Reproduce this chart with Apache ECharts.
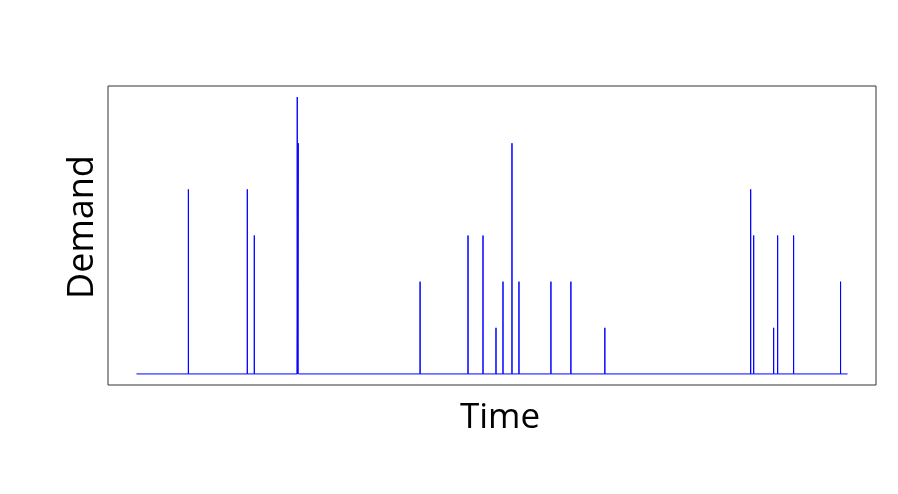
<!DOCTYPE html>
<html>
<head>
<meta charset="utf-8">
<script src="https://cdn.jsdelivr.net/npm/echarts@6/dist/echarts.min.js"></script>
<style>
  html, body { margin: 0; padding: 0; background: #fff; }
  #main { width: 898px; height: 494px; }
</style>
</head>
<body>
<div id="main"></div>
<script>
// time steps run 0..712, demand is zero except at these points
const timeStart = 0;
const timeEnd = 712;
const spikeTimes  = [52, 111, 118, 161, 162, 284, 332, 347, 360, 367, 376, 383, 415, 435, 469, 615, 618, 638, 642, 658, 705];
const spikeDemand = [4, 4, 3, 6, 5, 2, 3, 3, 1, 2, 5, 2, 2, 2, 1, 4, 3, 1, 3, 3, 2];

// type "h" style: every spike is a vertical stroke from zero
const points = [[timeStart, 0]];
spikeTimes.forEach((t, i) => {
  points.push([t, 0], [t, spikeDemand[i]], [t, 0]);
});
points.push([timeEnd, 0]);

const pad = 0.04;
const xSpan = timeEnd - timeStart;
const yMax = 6;

const myChart = echarts.init(document.getElementById('main'));
const font = '"Open Sans", "Liberation Sans", sans-serif';

const option = {
  animation: false,
  grid: {
    left: 108, right: 22, top: 86, bottom: 109,
    show: true,
    borderColor: '#333',
    borderWidth: 1,
    backgroundColor: 'transparent'
  },
  xAxis: {
    type: 'value',
    min: timeStart - xSpan * pad,
    max: timeEnd + xSpan * pad,
    axisLine: { show: false },
    axisTick: { show: false },
    axisLabel: { show: false },
    splitLine: { show: false }
  },
  yAxis: {
    type: 'value',
    min: -yMax * pad,
    max: yMax * (1 + pad),
    axisLine: { show: false },
    axisTick: { show: false },
    axisLabel: { show: false },
    splitLine: { show: false }
  },
  series: [{
    type: 'line',
    data: points,
    symbol: 'none',
    lineStyle: { color: '#0000ff', width: 1 },
    silent: true
  }],
  graphic: [
    {
      type: 'text',
      x: 500, y: 418,
      style: {
        text: 'Time',
        font: '35px ' + font,
        fill: '#000',
        textAlign: 'center',
        textVerticalAlign: 'middle'
      }
    },
    {
      type: 'text',
      x: 83, y: 227,
      rotation: Math.PI / 2,
      style: {
        text: 'Demand',
        font: '36px ' + font,
        fill: '#000',
        textAlign: 'center',
        textVerticalAlign: 'middle'
      }
    }
  ]
};
myChart.setOption(option);
</script>
</body>
</html>
